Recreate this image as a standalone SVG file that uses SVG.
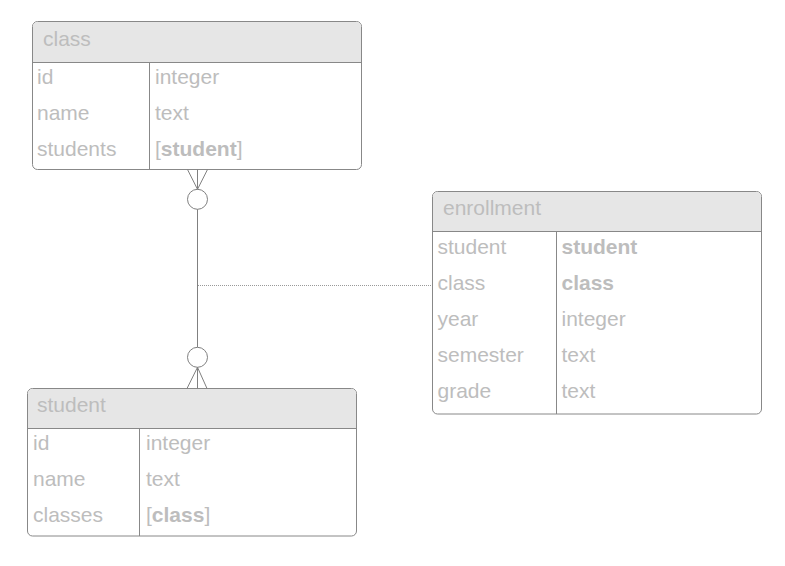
<svg xmlns="http://www.w3.org/2000/svg" width="785" height="566" viewBox="0 0 785 566">
<style>
.box{fill:#ffffff;stroke:#888888;stroke-width:1}
.hdr{fill:#e6e6e6}
.ln{stroke:#888888;stroke-width:1;fill:none}
text{font-family:"Liberation Sans",Arial,sans-serif;font-size:21px;fill:#bdbdbd}
.b{font-weight:bold}
.conn{stroke:#808080;stroke-width:1;fill:none}
.dot{stroke:#999999;stroke-width:1;stroke-dasharray:1 1;fill:none}
</style>
<rect width="785" height="566" fill="#ffffff"/>
<g id="class">
<rect class="box" x="32.5" y="21.5" width="329" height="148" rx="5"/>
<path class="hdr" d="M37.5 22 H356.5 A4.5 4.5 0 0 1 361 26.5 V62 H33 V26.5 A4.5 4.5 0 0 1 37.5 22 Z"/>
<line class="ln" x1="32.5" y1="62.5" x2="361.5" y2="62.5"/>
<line class="ln" x1="149.5" y1="62.5" x2="149.5" y2="169.5"/>
<text x="43" y="46">class</text>
<text x="37" y="83.5">id</text><text x="155" y="83.5">integer</text>
<text x="37" y="119.5">name</text><text x="155" y="119.5">text</text>
<text x="37" y="156">students</text><text x="155" y="156">[<tspan class="b">student</tspan>]</text>
</g>
<g id="enrollment">
<rect class="box" x="432.5" y="191.5" width="329" height="222.5" rx="5"/>
<path class="hdr" d="M437.5 192 H756.5 A4.5 4.5 0 0 1 761 196.5 V231.5 H433 V196.5 A4.5 4.5 0 0 1 437.5 192 Z"/>
<line class="ln" x1="432.5" y1="231.5" x2="761.5" y2="231.5"/>
<line class="ln" x1="556.5" y1="231.5" x2="556.5" y2="414"/>
<text x="443" y="215">enrollment</text>
<text x="437.5" y="253.5">student</text><text class="b" x="561.5" y="253.5">student</text>
<text x="437.5" y="289.5">class</text><text class="b" x="561.5" y="289.5">class</text>
<text x="437.5" y="325.5">year</text><text x="561.5" y="325.5">integer</text>
<text x="437.5" y="361.5">semester</text><text x="561.5" y="361.5">text</text>
<text x="437.5" y="397.5">grade</text><text x="561.5" y="397.5">text</text>
</g>
<g id="student">
<rect class="box" x="27.5" y="388.5" width="329" height="147.5" rx="5"/>
<path class="hdr" d="M32.5 389 H351.5 A4.5 4.5 0 0 1 356 393.5 V428 H28 V393.5 A4.5 4.5 0 0 1 32.5 389 Z"/>
<line class="ln" x1="27.5" y1="428.5" x2="356.5" y2="428.5"/>
<line class="ln" x1="139.5" y1="428.5" x2="139.5" y2="536"/>
<text x="37" y="412">student</text>
<text x="33" y="450">id</text><text x="146" y="450">integer</text>
<text x="33" y="486">name</text><text x="146" y="486">text</text>
<text x="33" y="522">classes</text><text x="146" y="522">[<tspan class="b">class</tspan>]</text>
</g>
<g id="connectors">
<path class="conn" d="M187.5 169.5 L197.5 189.3 L207.5 169.5 M197.5 169.5 V189.3"/>
<circle class="conn" cx="197.5" cy="199.3" r="10"/>
<line class="conn" x1="197.5" y1="209.3" x2="197.5" y2="347.3"/>
<circle class="conn" cx="197.5" cy="357.3" r="10"/>
<path class="conn" d="M187 388.5 L197.5 367.3 L207 388.5 M197.5 367.3 V388.5"/>
<line class="dot" x1="198" y1="285.5" x2="432" y2="285.5"/>
</g>
</svg>
